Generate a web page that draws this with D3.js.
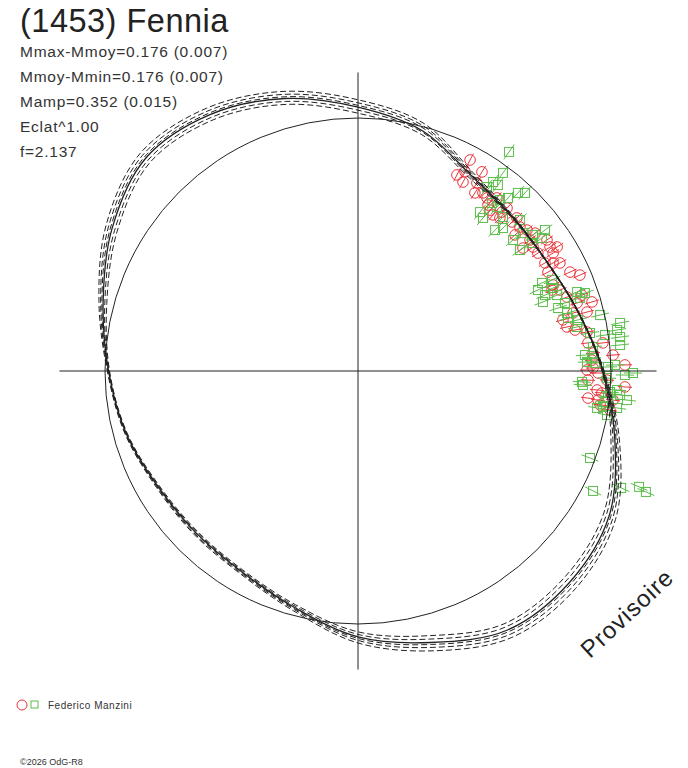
<!DOCTYPE html>
<html>
<head>
<meta charset="utf-8">
<script src="https://cdn.jsdelivr.net/npm/d3@7"></script>
<style>
    body { margin: 0; background: #fff; }
    svg { display: block; font-family: "Liberation Sans", Arial, sans-serif; }
</style>
</head>
<body>
<svg id="chart" width="688" height="768"></svg>
<script>
// phase angle (deg, counter-clockwise from +x) and radius (% of the mean circle)
const phaseDeg = [0, 15, 30, 45, 60, 75, 90, 105, 120, 135, 150, 165, 180, 195, 210, 225, 240, 255, 270, 285, 300, 315, 330, 345];
const fitRadius = [96.8, 90.1, 86.3, 86.2, 89.3, 98.3, 104.3, 111.5, 117.0, 118.8, 112.3, 104.3, 98.6, 94.9, 91.3, 90.5, 91.7, 96.8, 105.1, 111.1, 118.2, 118.2, 114.6, 105.1];
const dashRadius1 = [96.4, 89.9, 86.0, 85.8, 88.1, 96.8, 101.9, 109.1, 114.6, 116.4, 110.0, 102.8, 98.2, 94.5, 90.7, 89.7, 90.9, 95.6, 103.1, 108.3, 115.4, 115.4, 112.2, 103.5];
const dashRadius2 = [96.6, 90.0, 86.1, 86.0, 88.7, 97.8, 103.1, 110.3, 115.8, 117.6, 111.1, 103.6, 98.4, 94.7, 91.0, 90.1, 91.3, 96.2, 104.1, 109.7, 116.8, 116.8, 113.4, 104.3];
const dashRadius3 = [96.9, 90.2, 86.3, 86.3, 89.7, 99.4, 105.0, 112.2, 117.7, 119.5, 113.0, 104.8, 98.7, 95.0, 91.5, 90.7, 91.9, 97.2, 105.7, 111.9, 119.0, 119.0, 115.3, 105.6];
const dashRadius4 = [97.1, 90.2, 86.3, 86.5, 90.1, 100.2, 106.0, 113.2, 118.7, 120.5, 113.9, 105.3, 98.9, 95.2, 91.7, 91.1, 92.3, 97.6, 106.5, 113.1, 120.2, 120.2, 116.3, 106.2];
const dashRadius5 = [97.3, 90.3, 86.4, 86.7, 90.7, 101.2, 107.2, 114.4, 119.9, 121.7, 115.0, 106.0, 99.1, 95.4, 92.0, 91.5, 92.7, 98.2, 107.5, 114.5, 121.6, 121.6, 117.5, 107.0];

// observations, x / y in % of the mean circle
const redObs = [
    [44.3, 83.4], [39.1, 77.5], [42.3, 78.7], [41.5, 74.7], [49.0, 78.7], [47.0, 74.3], [46.2, 70.4], [49.4, 70.4],
    [51.0, 68.4], [51.4, 65.6], [52.2, 63.6], [54.9, 68.4], [53.4, 61.7], [56.1, 60.5], [56.9, 62.8], [58.9, 64.4],
    [60.9, 58.9], [62.8, 60.5], [64.0, 56.9], [62.1, 53.8], [66.8, 55.7], [68.0, 51.8], [70.0, 54.5], [69.2, 49.0],
    [74.7, 51.8], [75.9, 49.0], [77.1, 46.6], [78.7, 49.0], [65.2, 48.6], [71.1, 46.6], [77.1, 42.7], [73.9, 42.7],
    [79.8, 42.7], [83.8, 39.1], [87.7, 37.9], [75.1, 39.1], [77.1, 34.0], [76.7, 32.0], [79.8, 32.0], [82.6, 29.2],
    [88.5, 30.0], [92.5, 27.3], [90.5, 23.3], [86.6, 26.9], [85.0, 22.9], [82.6, 17.4], [85.8, 16.2], [90.5, 15.4],
    [81.0, 20.2], [90.9, 11.1], [96.8, 11.1], [92.9, 7.1], [100.8, 6.3], [105.5, 2.4], [90.5, 0.4], [92.9, 1.2],
    [94.9, -0.8], [90.9, -3.6], [98.4, -3.6], [105.5, -6.3], [94.5, -7.5], [96.4, -8.7], [90.9, -10.7], [94.9, -11.5],
    [100.8, -11.5], [99.6, -15.4], [95.7, -13.4], [92.5, 4.3]
];
const greenObs = [
    [59.7, 86.6], [57.3, 78.3], [53.4, 74.7], [55.3, 73.5], [51.0, 72.7], [63.2, 70.4], [66.0, 70.4], [59.3, 68.4],
    [56.1, 67.6], [53.0, 66.4], [54.9, 64.8], [48.2, 62.8], [49.4, 60.5], [57.3, 60.9], [64.0, 59.7], [54.2, 55.7],
    [57.3, 56.5], [61.3, 51.8], [65.2, 54.5], [69.2, 53.8], [73.9, 55.7], [72.7, 52.6], [64.0, 47.8], [68.8, 50.6],
    [72.7, 34.8], [76.7, 36.0], [77.1, 32.8], [71.1, 32.0], [73.9, 30.0], [73.1, 27.3], [78.7, 30.0], [86.6, 31.2],
    [89.7, 30.8], [87.7, 28.9], [81.8, 26.9], [79.1, 24.9], [82.6, 22.9], [83.0, 20.9], [87.0, 20.2], [95.7, 22.1],
    [103.6, 19.0], [102.4, 16.2], [103.6, 13.4], [91.7, 15.0], [97.6, 14.2], [86.6, 17.4], [103.6, 10.3], [92.9, 9.5],
    [89.7, 6.3], [92.5, 5.1], [90.5, 3.6], [93.7, 3.2], [98.8, 1.6], [101.6, 2.4], [105.5, -1.6], [108.7, -0.8],
    [88.5, -4.3], [88.9, -5.5], [98.4, -2.8], [102.4, -7.5], [99.6, -8.3], [103.6, -9.5], [106.3, -11.5], [97.6, -12.3],
    [96.8, -14.2], [94.5, -14.6], [98.4, -17.4], [102.4, -14.6], [98.8, -10.3],
    [91.7, -34.4], [92.9, -47.4], [104.0, -46.2], [111.1, -45.8], [113.8, -47.8]
];
const redErr = 2.8;
const greenErr = 3.6;

const statLines = ["Mmax-Mmoy=0.176 (0.007)", "Mmoy-Mmin=0.176 (0.007)", "Mamp=0.352 (0.015)", "Eclat^1.00", "f=2.137"];

const svg = d3.select("#chart");
const cx = 358, cy = 371, R = 253;
const axisLimit = 118;
const ink = "#222";
const red = "#e8363c";
const green = "#5bbd4b";

const x = d3.scaleLinear().domain([-100, 100]).range([cx - R, cx + R]);
const y = d3.scaleLinear().domain([-100, 100]).range([cy + R, cy - R]);
const r = d3.scaleLinear().domain([0, 100]).range([0, R]);

// observations (radial error bars through each marker)
function errLine(g, data, err, color) {
    g.selectAll(null)
        .data(data)
        .enter()
        .append("line")
        .attr("x1", d => x(d[0] - err * Math.cos(Math.atan2(d[1], d[0]))))
        .attr("y1", d => y(d[1] - err * Math.sin(Math.atan2(d[1], d[0]))))
        .attr("x2", d => x(d[0] + err * Math.cos(Math.atan2(d[1], d[0]))))
        .attr("y2", d => y(d[1] + err * Math.sin(Math.atan2(d[1], d[0]))))
        .attr("stroke", color)
        .attr("stroke-width", 1);
}

const redG = svg.append("g");
errLine(redG, redObs, redErr, red);
redG.selectAll("circle")
    .data(redObs)
    .enter()
    .append("circle")
    .attr("cx", d => x(d[0]))
    .attr("cy", d => y(d[1]))
    .attr("r", 5.3)
    .attr("fill", "none")
    .attr("stroke", red);

const greenG = svg.append("g");
errLine(greenG, greenObs, greenErr, green);
greenG.selectAll("rect")
    .data(greenObs)
    .enter()
    .append("rect")
    .attr("x", d => x(d[0]) - 4.5)
    .attr("y", d => y(d[1]) - 4.5)
    .attr("width", 9)
    .attr("height", 9)
    .attr("fill", "none")
    .attr("stroke", green);

// axes
svg.append("line")
    .attr("x1", x(-axisLimit)).attr("x2", x(axisLimit))
    .attr("y1", y(0)).attr("y2", y(0))
    .attr("stroke", ink);
svg.append("line")
    .attr("x1", x(0)).attr("x2", x(0))
    .attr("y1", y(axisLimit)).attr("y2", y(-axisLimit))
    .attr("stroke", ink);

// mean circle
svg.append("circle")
    .attr("cx", x(0))
    .attr("cy", y(0))
    .attr("r", r(100))
    .attr("fill", "none")
    .attr("stroke", ink);

// lightcurve in polar form
const curveG = svg.append("g").attr("transform", `translate(${x(0)},${y(0)})`);
const radial = d3.lineRadial()
    .angle(d => (90 - d[0]) * Math.PI / 180)
    .radius(d => r(d[1]))
    .curve(d3.curveCatmullRomClosed.alpha(0.5));

[dashRadius1, dashRadius2, dashRadius3, dashRadius4, dashRadius5].forEach((arr, i) => {
    curveG.append("path")
        .datum(phaseDeg.map((p, j) => [p, arr[j]]))
        .attr("d", radial)
        .attr("fill", "none")
        .attr("stroke", ink)
        .attr("stroke-width", 1)
        .attr("stroke-dasharray", "6,3")
        .attr("stroke-dashoffset", i * 2);
});
curveG.append("path")
    .datum(phaseDeg.map((p, j) => [p, fitRadius[j]]))
    .attr("d", radial)
    .attr("fill", "none")
    .attr("stroke", ink)
    .attr("stroke-width", 1.3);

// header texts
svg.append("text")
    .attr("x", 20).attr("y", 32)
    .attr("font-size", 32.5)
    .attr("letter-spacing", 0.5)
    .attr("fill", ink)
    .text("(1453) Fennia");

svg.selectAll(".stat")
    .data(statLines)
    .enter()
    .append("text")
    .attr("class", "stat")
    .attr("x", 20)
    .attr("y", (d, i) => 57 + i * 25)
    .attr("font-size", 15.5)
    .attr("letter-spacing", 0.75)
    .attr("fill", "#333")
    .text(d => d);

svg.append("text")
    .attr("transform", "translate(590,659) rotate(-43)")
    .attr("font-size", 24)
    .attr("letter-spacing", 1)
    .attr("fill", ink)
    .text("Provisoire");

// legend
svg.append("circle")
    .attr("cx", 22).attr("cy", 705).attr("r", 5)
    .attr("fill", "none").attr("stroke", red);
svg.append("rect")
    .attr("x", 31).attr("y", 701).attr("width", 7).attr("height", 7)
    .attr("fill", "none").attr("stroke", green);
svg.append("text")
    .attr("x", 48).attr("y", 709)
    .attr("font-size", 10)
    .attr("letter-spacing", 0.5)
    .attr("fill", "#333")
    .text("Federico Manzini");

svg.append("text")
    .attr("x", 20).attr("y", 765)
    .attr("font-size", 9)
    .attr("fill", "#333")
    .text("©2026 OdG-R8");
</script>
</body>
</html>
